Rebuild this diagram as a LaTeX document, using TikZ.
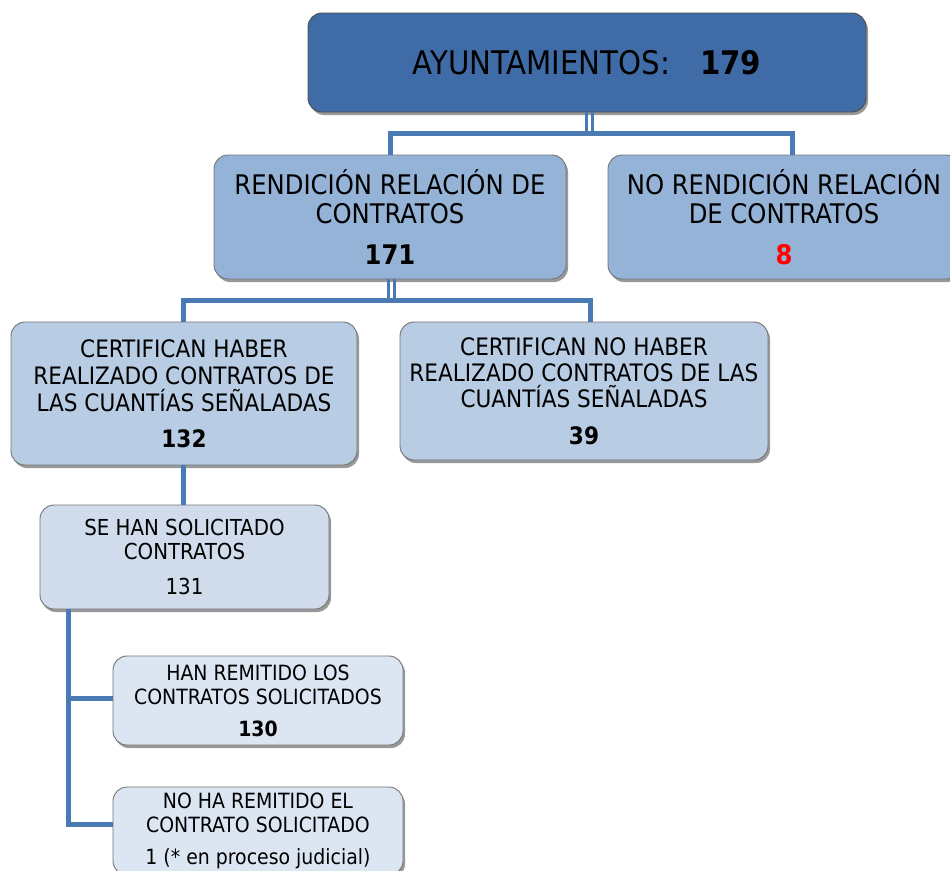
\documentclass[tikz,border=0pt]{standalone}
\usepackage{fontspec}
\setmainfont{DejaVu Sans Condensed}
\usetikzlibrary{shadows}
\definecolor{topfill}{RGB}{63,108,166}
\definecolor{lvtwo}{RGB}{149,179,215}
\definecolor{lvthree}{RGB}{184,204,228}
\definecolor{lvfour}{RGB}{208,220,236}
\definecolor{lvfive}{RGB}{220,230,242}
\definecolor{connc}{RGB}{74,122,180}
\definecolor{redn}{RGB}{255,0,0}
\tikzset{
  boxbase/.style={rounded corners=14pt, draw=black!55, line width=0.9pt, align=center, inner sep=0pt,
    drop shadow={shadow xshift=2pt, shadow yshift=-3pt, opacity=0.4, fill=black}},
  conn/.style={draw=connc, line width=5pt},
}
\begin{document}
\begin{tikzpicture}[x=1pt,y=-1pt]
\useasboundingbox (0,0) rectangle (950,870);
\clip (0,0) rectangle (950,870);

% boxes
\node[boxbase, fill=topfill, draw=black!70, minimum width=558pt, minimum height=99pt,
  font=\fontsize{32.5}{35}\selectfont] (top) at (587,62.5)
  {AYUNTAMIENTOS:\hspace{30pt}\textbf{179}};

\node[boxbase, fill=lvtwo, minimum width=352pt, minimum height=124pt,
  font=\fontsize{27}{29}\selectfont] (ren) at (390,217)
  {RENDICIÓN RELACIÓN DE\\CONTRATOS\\[12pt]\textbf{171}};

\node[boxbase, fill=lvtwo, minimum width=352pt, minimum height=124pt,
  font=\fontsize{27}{29}\selectfont] (noren) at (784,217)
  {NO RENDICIÓN RELACIÓN\\DE CONTRATOS\\[12pt]\textcolor{redn}{\textbf{8}}};

\node[boxbase, fill=lvthree, minimum width=346pt, minimum height=143pt,
  font=\fontsize{24}{27}\selectfont] (cert) at (184,393.5)
  {CERTIFICAN HABER\\REALIZADO CONTRATOS DE\\LAS CUANTÍAS SEÑALADAS\\[9pt]\textbf{132}};

\node[boxbase, fill=lvthree, minimum width=368pt, minimum height=138pt,
  font=\fontsize{24}{26}\selectfont] (certno) at (584,391)
  {CERTIFICAN NO HABER\\REALIZADO CONTRATOS DE LAS\\CUANTÍAS SEÑALADAS\\[11pt]\textbf{39}};

\node[boxbase, fill=lvfour, minimum width=289pt, minimum height=104pt,
  font=\fontsize{22}{24}\selectfont] (sehan) at (184.5,557)
  {SE HAN SOLICITADO\\CONTRATOS\\[11pt]131};

\node[boxbase, fill=lvfive, minimum width=290pt, minimum height=89pt,
  font=\fontsize{21}{24}\selectfont] (han) at (258,700.5)
  {HAN REMITIDO LOS\\CONTRATOS SOLICITADOS\\[8pt]\textbf{130}};

\node[boxbase, fill=lvfive, minimum width=290pt, minimum height=88pt,
  font=\fontsize{21}{24}\selectfont] (noha) at (258,831)
  {NO HA REMITIDO EL\\CONTRATO SOLICITADO\\[8pt]1 (* en proceso judicial)};

% junction coordinates
\coordinate (ja) at (590,133);
\coordinate (jb) at (392,300);

% connectors level 1 -> 2
\draw[conn, line width=3.5pt] ([xshift=-0.5pt]top.south) -- ([xshift=-0.5pt]top.south |- ja);
\draw[conn, line width=3.5pt] ([xshift=5.5pt]top.south) -- ([xshift=5.5pt]top.south |- ja);
\draw[conn] (ren.north) |- (ja) -| ([xshift=8pt]noren.north);

% connectors level 2 -> 3
\draw[conn, line width=3.5pt] ([xshift=-1.5pt]ren.south) -- ([xshift=-1.5pt]ren.south |- jb);
\draw[conn, line width=3.5pt] ([xshift=4.5pt]ren.south) -- ([xshift=4.5pt]ren.south |- jb);
\draw[conn] ([xshift=-1pt]cert.north) |- (jb) -| ([xshift=6pt]certno.north);

% level 3 -> 4
\draw[conn] ([xshift=-1pt]cert.south) -- ([xshift=-1.5pt]sehan.north);

% level 4 -> 5
\draw[conn] ([xshift=-116pt]sehan.south) |- ([yshift=2.5pt]han.west);
\draw[conn] ([xshift=-116pt]sehan.south) |- ([yshift=7pt]noha.west);
\end{tikzpicture}
\end{document}
